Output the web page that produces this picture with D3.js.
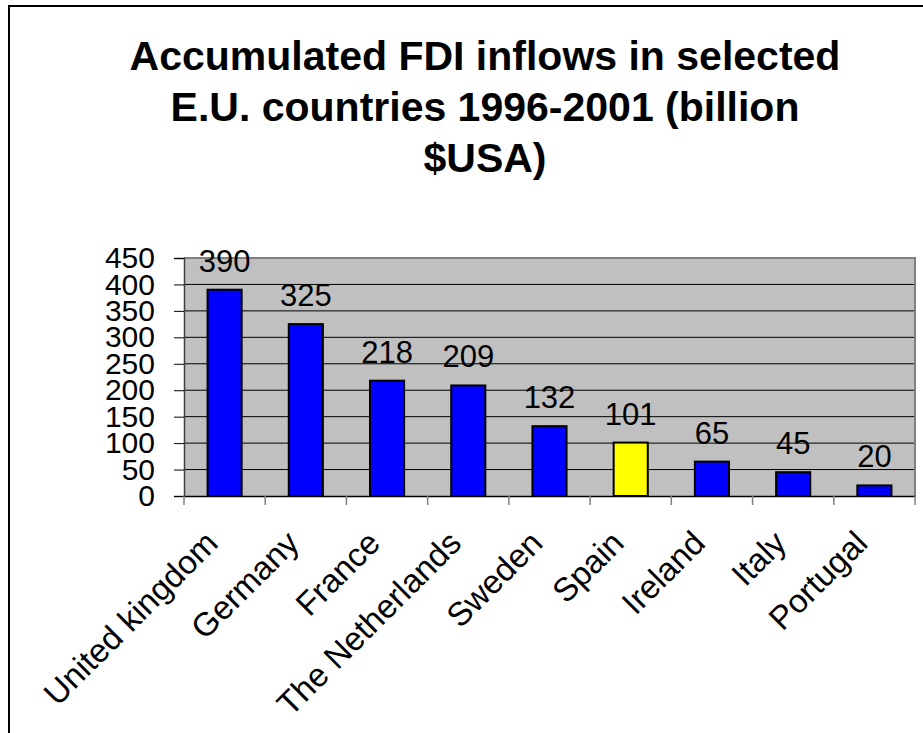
<!DOCTYPE html>
<html>
<head>
<meta charset="utf-8">
<script src="https://cdn.jsdelivr.net/npm/d3@7"></script>
<style>
  body { margin: 0; background: #fff; }
  svg { display: block; font-family: "Liberation Sans", Arial, sans-serif; }
</style>
</head>
<body>
<svg id="chart" width="923" height="733"></svg>
<script>
'use strict';

var titleLines = ["Accumulated FDI inflows in selected", "E.U. countries 1996-2001 (billion", "$USA)"];
var countries  = ["United kingdom", "Germany", "France", "The Netherlands", "Sweden", "Spain", "Ireland", "Italy", "Portugal"];
var inflows    = [390, 325, 218, 209, 132, 101, 65, 45, 20];
var highlight  = ["Spain"];
var yTicks     = [0, 50, 100, 150, 200, 250, 300, 350, 400, 450];

var plot = {left: 184, right: 915, top: 258, bottom: 496};

var svg = d3.select("#chart");

// outer frame (right and bottom edges fall outside the picture)
svg.append("rect")
    .attr("x", 9).attr("y", 6)
    .attr("width", 1000).attr("height", 1000)
    .style("fill", "none").style("stroke", "#000").style("stroke-width", 2);

// title
svg.append("g").selectAll("text")
    .data(titleLines)
    .enter().append("text")
        .attr("x", 485)
        .attr("y", function(d, i){ return 70 + i*51; })
        .attr("text-anchor", "middle")
        .style("font-size", "41px")
        .style("font-weight", "bold")
        .text(function(d){ return d; });

var x = d3.scaleBand()
    .domain(countries)
    .range([plot.left, plot.right])
    .paddingInner(0.58)
    .paddingOuter(0.29);

var y = d3.scaleLinear()
    .domain([0, 450])
    .range([plot.bottom, plot.top]);

// plot background
svg.append("rect")
    .attr("x", plot.left).attr("y", plot.top)
    .attr("width", plot.right - plot.left)
    .attr("height", plot.bottom - plot.top)
    .style("fill", "#c0c0c0");

// gridlines
svg.append("g").selectAll("line")
    .data(yTicks.slice(1))
    .enter().append("line")
        .attr("x1", plot.left).attr("x2", plot.right)
        .attr("y1", function(d){ return y(d); })
        .attr("y2", function(d){ return y(d); })
        .style("stroke", "#000").style("stroke-width", 1);

// plot border top / right
svg.append("path")
    .attr("d", "M" + plot.left + "," + plot.top + "H" + plot.right + "V" + plot.bottom)
    .style("fill", "none").style("stroke", "#808080").style("stroke-width", 2);

// bars
svg.append("g").selectAll("rect")
    .data(inflows)
    .enter().append("rect")
        .attr("x", function(d, i){ return x(countries[i]); })
        .attr("y", function(d){ return y(d); })
        .attr("width", x.bandwidth())
        .attr("height", function(d){ return y(0) - y(d); })
        .style("fill", function(d, i){ return highlight.indexOf(countries[i]) >= 0 ? "#ffff00" : "#0000ff"; })
        .style("stroke", "#000").style("stroke-width", 2);

// value labels
svg.append("g").selectAll("text")
    .data(inflows)
    .enter().append("text")
        .attr("x", function(d, i){ return x(countries[i]) + x.bandwidth()/2; })
        .attr("y", function(d){ return y(d) - 18; })
        .attr("text-anchor", "middle")
        .style("font-size", "31px")
        .text(function(d){ return d; });

// y axis
var yAxis = d3.axisLeft(y).tickValues(yTicks).tickSize(10).tickPadding(19);
var gy = svg.append("g")
    .attr("transform", "translate(" + plot.left + ",0)")
    .call(yAxis);
gy.select(".domain").style("stroke", "#404040").style("stroke-width", 1.5);
gy.selectAll(".tick line").style("stroke", "#000");
gy.selectAll(".tick text")
    .style("font-size", "30px")
    .style("font-family", "'Liberation Sans', Arial, sans-serif")
    .attr("fill", "#000");

// x axis: labels at category centres, tick marks at boundaries
var xAxis = d3.axisBottom(x).tickSize(0).tickPadding(0);
var gx = svg.append("g")
    .attr("transform", "translate(0," + plot.bottom + ")")
    .call(xAxis);
gx.select(".domain").style("stroke", "#000").style("stroke-width", 1.5);
gx.selectAll(".tick text")
    .attr("y", 0).attr("dy", 0)
    .attr("text-anchor", "end")
    .attr("transform", "translate(-5,49) rotate(-45)")
    .style("font-size", "33px")
    .style("font-family", "'Liberation Sans', Arial, sans-serif")
    .attr("fill", "#000");

var bounds = countries.map(function(c){ return x(c) - x.step()*x.paddingInner()/2; });
bounds.push(plot.right);
bounds[0] = plot.left;
gx.append("g").selectAll("line")
    .data(bounds)
    .enter().append("line")
        .attr("x1", function(d){ return d; }).attr("x2", function(d){ return d; })
        .attr("y1", 0).attr("y2", 9)
        .style("stroke", "#808080").style("stroke-width", 1.5);
</script>
</body>
</html>
